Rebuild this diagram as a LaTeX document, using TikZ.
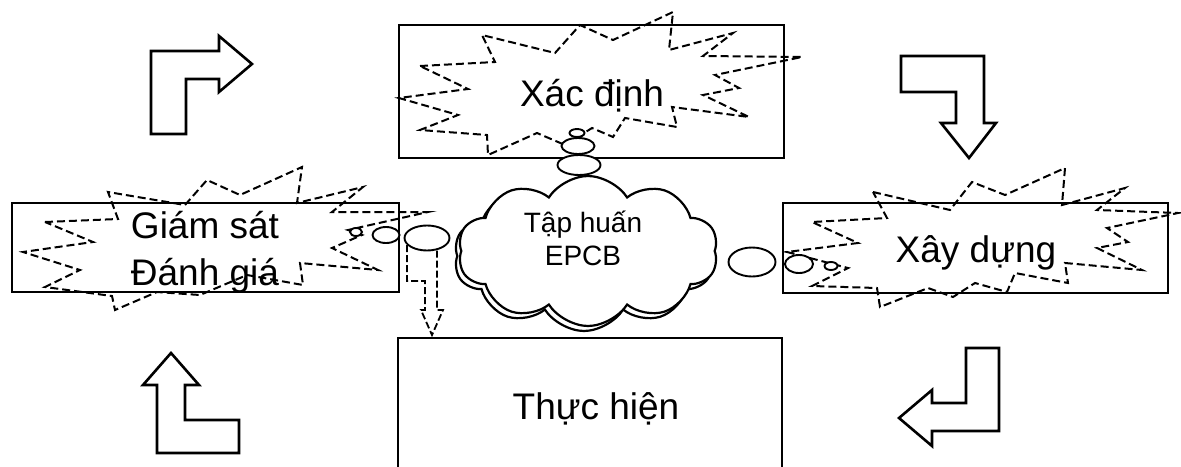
\documentclass[tikz,border=0pt]{standalone}
\usepackage{fontspec}
\setmainfont{Liberation Sans}
\usetikzlibrary{shapes.symbols,shapes.geometric}
\begin{document}
\begin{tikzpicture}[x=1pt,y=-1pt,
  boxstyle/.style={draw,line width=2.2pt,inner sep=0pt},
  burst/.style={draw,line width=2pt,dash pattern=on 8pt off 4pt,line join=miter},
  bendarrow/.style={draw,line width=2.6pt,line join=miter,fill=white},
  bubble/.style={draw,ellipse,line width=1.9pt,fill=white,inner sep=0pt},
  cloudstyle/.style={cloud,cloud puffs=10,cloud puff arc=115,cloud ignores aspect,draw,line width=2.2pt,minimum width=260pt,minimum height=150pt,inner sep=0pt},
  biglabel/.style={font=\fontsize{37}{42}\selectfont,anchor=base,inner sep=0pt},
  smalllabel/.style={font=\fontsize{28}{32}\selectfont,anchor=base,inner sep=0pt}]
\clip (0,0) rectangle (1181,466);
\fill[white] (0,0) rectangle (1181,466);

% boxes
\node[boxstyle,minimum width=385pt,minimum height=133pt] (xd) at (591.5,91.5) {};
\node[boxstyle,minimum width=387pt,minimum height=89pt] (gs) at (205.5,247.5) {};
\node[boxstyle,minimum width=385pt,minimum height=90pt] (xay) at (975.5,248) {};
\node[boxstyle,minimum width=384pt,minimum height=160pt] (th) at (590,418) {};

% starbursts
\draw[burst] (420,66) -- (495,62) -- (482,35) -- (555,53) -- (580,25) -- (613,40) -- (673,12) -- (669,50)
  -- (733,33) -- (703,56) -- (802,57) -- (715,75) -- (739,88) -- (703,95) -- (749,117) -- (672,107)
  -- (677,127) -- (625,118) -- (613,137) -- (592,128) -- (565,145) -- (537,133) -- (488,155) -- (487,135)
  -- (420,130) -- (458,115) -- (399,98) -- (468,89) -- cycle;
\draw[burst] (45,222) -- (118,219) -- (108,192) -- (185,205) -- (207,180) -- (240,195) -- (302,167)
  -- (297,203) -- (363,187) -- (332,212) -- (428,212) -- (348,230) -- (362,235) -- (332,248)
  -- (378,270) -- (300,263) -- (303,285) -- (247,275) -- (200,295) -- (157,292) -- (115,310)
  -- (112,296) -- (45,287) -- (80,270) -- (23,252) -- (93,242) -- cycle;
\draw[burst] (873,192) -- (950,210) -- (972,182) -- (1005,195) -- (1065,168) -- (1062,205) -- (1125,188)
  -- (1097,210) -- (1178,213) -- (1107,228) -- (1128,242) -- (1097,248) -- (1142,270) -- (1065,263)
  -- (1068,283) -- (1015,273) -- (1007,292) -- (975,283) -- (953,297) -- (928,288) -- (880,307)
  -- (877,288) -- (812,286) -- (848,268) -- (787,252) -- (858,243) -- (812,222) -- (887,218) -- cycle;

% bent arrows
\draw[bendarrow] (151,134) -- (151,51) -- (219,51) -- (219,36) -- (252,64) -- (219,92) -- (219,79) -- (186,79) -- (186,134) -- cycle;
\draw[bendarrow] (901,56) -- (984,56) -- (984,123) -- (996,123) -- (969,158) -- (941,123) -- (956,123) -- (956,92) -- (901,92) -- cycle;
\draw[bendarrow] (999,348) -- (999,431) -- (932,431) -- (932,446) -- (899,418) -- (932,390) -- (932,403) -- (966,403) -- (966,348) -- cycle;
\draw[bendarrow] (157,453) -- (157,385) -- (143,385) -- (171,353) -- (199,385) -- (185,385) -- (185,420) -- (239,420) -- (239,453) -- cycle;

% dashed block arrow to Thuc hien
\draw[burst,line width=1.8pt,dash pattern=on 7pt off 3pt] (407,245) -- (407,281) -- (425,281) -- (425,310) -- (421,310) -- (432,335) -- (443,310) -- (437,310) -- (437,245);

% cloud with shadow
\node[cloudstyle] (cloudshadow) at (584,256) {};
\node[cloudstyle,fill=white] (cloud) at (588,251) {};

% thought bubbles
\node[bubble,minimum width=43pt,minimum height=20pt] (t1) at (579,165) {};
\node[bubble,minimum width=33pt,minimum height=16pt] (t2) at (578,146) {};
\node[bubble,minimum width=15pt,minimum height=8pt] (t3) at (577,133) {};
\node[bubble,minimum width=45pt,minimum height=25pt] (l1) at (427,238) {};
\node[bubble,minimum width=27pt,minimum height=16pt] (l2) at (386,235) {};
\node[bubble,minimum width=12pt,minimum height=8pt] (l3) at (356,232) {};
\node[bubble,minimum width=47pt,minimum height=29pt] (r1) at (752,262) {};
\node[bubble,minimum width=28pt,minimum height=18pt] (r2) at (799,264) {};
\node[bubble,minimum width=13pt,minimum height=8pt] (r3) at (831,266) {};

% labels
\node[biglabel] (txd) at (592,106) {Xác định};
\node[biglabel] (tgs1) at (205,238) {Giám sát};
\node[biglabel] (tgs2) at (205,285) {Đánh giá};
\node[biglabel] (txay) at (976,262) {Xây dựng};
\node[biglabel] (tth) at (596,419) {Thực hiện};
\node[smalllabel] (ttap) at (583,232) {Tập huấn};
\node[smalllabel] (tepcb) at (583,265) {EPCB};
\end{tikzpicture}
\end{document}
